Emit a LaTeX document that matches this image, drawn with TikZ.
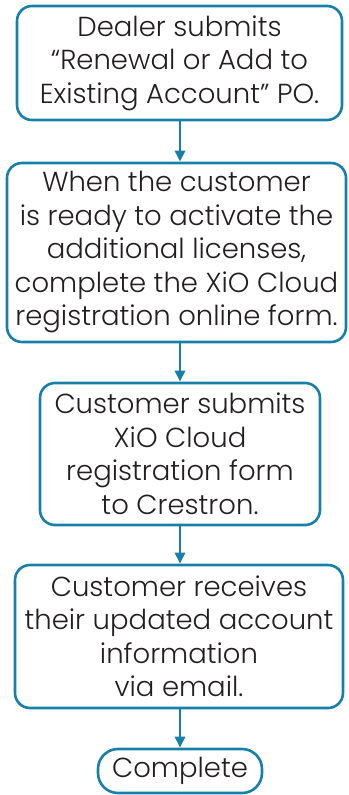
\documentclass[tikz,border=0pt]{standalone}
\usepackage{fontspec}
\IfFontExistsTF{Poppins Light}{\setmainfont{Poppins Light}}{\setmainfont{Poppins}}
\usetikzlibrary{arrows.meta}
\definecolor{flow}{RGB}{22,128,168}
\definecolor{ink}{RGB}{35,31,32}
\tikzset{
  stepbox/.style={draw=flow, line width=2.6pt, rounded corners=15pt, align=center, text=ink, inner sep=0pt,
    font=\fontsize{27.5}{33.5}\selectfont},
  flowarrow/.style={draw=flow, line width=2.6pt, -{Triangle[length=11pt,width=10pt]}}
}
\begin{document}
\begin{tikzpicture}[x=1pt,y=-1pt]
\useasboundingbox (0,0) rectangle (348,795);
\node[stepbox, minimum width=325pt, minimum height=114pt] (b1) at (179.5,63)
  {Dealer submits\\``Renewal or Add to\\Existing Account'' PO.};
\node[stepbox, minimum width=339pt, minimum height=179pt] (b2) at (176.5,252.5)
  {When the customer\\is ready to activate the\\additional licenses,\\complete the XiO Cloud\\registration online form.};
\node[stepbox, minimum width=280pt, minimum height=142pt] (b3) at (180,454)
  {Customer submits\\XiO Cloud\\registration form\\to Crestron.};
\node[stepbox, minimum width=328pt, minimum height=143pt] (b4) at (179,636.5)
  {Customer receives\\their updated account\\information\\via email.};
\node[stepbox, rounded corners=20pt, minimum width=164pt, minimum height=44pt] (b5) at (180,771)
  {Complete};
\draw[flowarrow] (b1.south -| b5) -- (b2.north -| b5);
\draw[flowarrow] (b2.south -| b5) -- (b3.north -| b5);
\draw[flowarrow] (b3.south -| b5) -- (b4.north -| b5);
\draw[flowarrow] (b4.south -| b5) -- (b5.north);
\end{tikzpicture}
\end{document}
